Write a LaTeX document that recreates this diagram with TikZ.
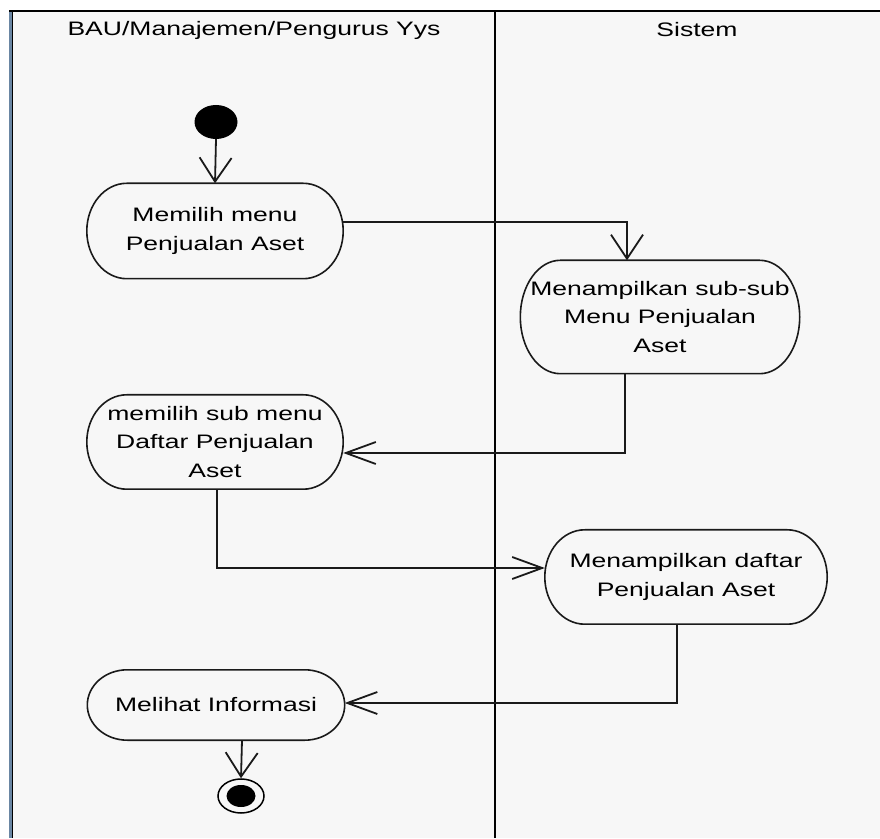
\documentclass[tikz,border=0pt]{standalone}
\usepackage{fontspec}
\setmainfont{Liberation Sans}[FakeStretch=1.36]
\usetikzlibrary{arrows.meta,shapes.geometric,calc}
\definecolor{lanebg}{HTML}{F7F7F7}
\definecolor{edgebar}{HTML}{6A86A3}
\definecolor{ink}{HTML}{1A1A1A}
\begin{document}
\begin{tikzpicture}[x=1pt,y=1pt,
  act/.style={rectangle, draw=none, inner sep=0pt, align=center,
    font=\fontsize{19.5pt}{28.5pt}\selectfont, text=black},
  outline/.style={draw=ink, line width=1.6pt},
  flow/.style={draw=ink, line width=1.8pt},
  hbarb/.style={-{Straight Barb[length=30pt,width=22pt,line width=1.8pt]}},
  vbarb/.style={-{Straight Barb[length=24pt,width=32pt,line width=1.8pt]}},
  lanehead/.style={font=\fontsize{19.5pt}{22pt}\selectfont, text=black}
]
\useasboundingbox (0,0) rectangle (880,838);
\fill[white] (0,0) rectangle (880,838);
% swimlane frame
\fill[lanebg] (9,0) rectangle (880,828);
\fill[edgebar] (9,0) rectangle (12,828);
\draw[black, line width=1.5pt] (12.5,0) -- (12.5,828);
\draw[black, line width=2pt] (9,827) -- (880,827);
\draw[black, line width=2pt] (495,0) -- (495,827);
\node[lanehead] (laneA) at (254,808) {BAU/Manajemen/Pengurus Yys};
\node[lanehead] (laneB) at (697,808) {Sistem};

% initial and final states
\node[ellipse, fill=black, minimum width=43pt, minimum height=34pt, inner sep=0pt] (start) at (216,716) {};
\node[ellipse, draw=black, line width=1.5pt, fill=lanebg, minimum width=46pt, minimum height=34pt, inner sep=0pt] (stop) at (241,42) {};
\node[ellipse, fill=black, minimum width=29pt, minimum height=22pt, inner sep=0pt] (stopdot) at (stop) {};

% activities
\node[act, minimum width=256pt, minimum height=95pt] (n1) at (215,607) {Memilih menu\\Penjualan Aset};
\node[act, minimum width=279pt, minimum height=113pt] (n2) at (660,521) {Menampilkan sub-sub\\Menu Penjualan\\Aset};
\node[act, minimum width=256pt, minimum height=94pt] (n3) at (215,396) {memilih sub menu\\Daftar Penjualan\\Aset};
\node[act, minimum width=282pt, minimum height=94pt] (n4) at (686,261) {Menampilkan daftar\\Penjualan Aset};
\node[act, minimum width=257pt, minimum height=70pt] (n5) at (216,133) {Melihat Informasi};

% rounded outlines of the activities
\foreach \nd in {n1,n2,n3,n4,n5}{
  \draw[outline] let \p1=(\nd.south west), \p2=(\nd.north east), \n1={0.5*(\y2-\y1)} in
    (\x1+40pt,\y1) -- (\x2-40pt,\y1)
    arc[start angle=-90, end angle=90, x radius=40pt, y radius=\n1]
    -- (\x1+40pt,\y2)
    arc[start angle=90, end angle=270, x radius=40pt, y radius=\n1] -- cycle;
}

% control flow
\draw[flow, vbarb] (start.south) -- (n1.north);
\draw[flow, vbarb] ([yshift=9pt]n1.east) -| ([xshift=-33pt]n2.north);
\draw[flow, hbarb] ([xshift=-35pt]n2.south) |- ([yshift=-11pt]n3.east);
\draw[flow, hbarb] ([xshift=2pt]n3.south) |- ([yshift=9pt]n4.west);
\draw[flow, hbarb] ([xshift=-9pt]n4.south) |- ([yshift=2pt]n5.east);
\draw[flow, vbarb] ([xshift=26pt]n5.south) -- (stop.north);
\end{tikzpicture}
\end{document}
